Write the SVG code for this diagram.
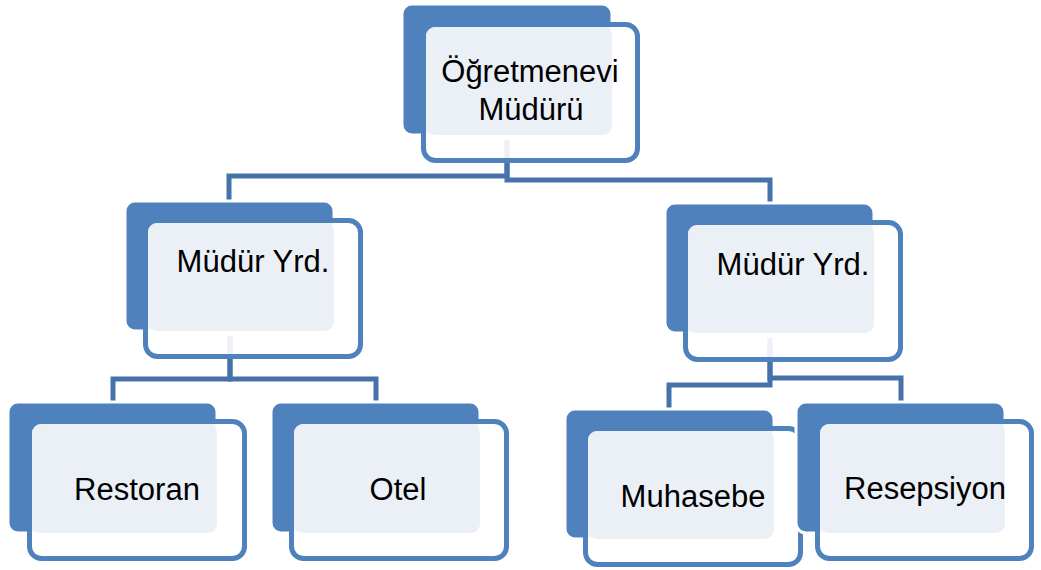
<svg xmlns="http://www.w3.org/2000/svg" width="1041" height="570" viewBox="0 0 1041 570">
<style>
.bk{fill:#4F81BD;stroke:#FFFFFF;stroke-width:3}
.ol{fill:#FFFFFF;fill-opacity:0.9;stroke:#4F81BD;stroke-width:5}
.lt{fill:#EBF0F7}
.tx{font-family:"Liberation Sans",Arial,sans-serif;font-size:31px;fill:#000000;text-anchor:middle}
.cn{fill:none;stroke:#4672AA;stroke-width:5;stroke-linejoin:miter}
</style>
<rect width="1041" height="570" fill="#FFFFFF"/>
<g id="connectors">
<path class="cn" d="M507,140 V176 H229 V202"/>
<path class="cn" d="M507,140 V180 H770 V204"/>
<path class="cn" d="M230,336 V379 H113 V402"/>
<path class="cn" d="M230,336 V379 H376 V402"/>
<path class="cn" d="M770,338 V385 H669 V409"/>
<path class="cn" d="M770,338 V378 H901 V402"/>
</g>
<g id="node-top">
<rect class="bk" x="402" y="4" width="210" height="131" rx="10"/>
<rect class="ol" x="423.5" y="24.5" width="214" height="136" rx="12"/>
<rect class="lt" x="426" y="27" width="186" height="108" rx="9"/>
<text class="tx" x="530" y="82">Öğretmenevi</text>
<text class="tx" x="531" y="120">Müdürü</text>
</g>
<g id="node-mid-left">
<rect class="bk" x="125" y="201" width="209" height="130" rx="10"/>
<rect class="ol" x="145.5" y="220.5" width="215" height="136" rx="12"/>
<rect class="lt" x="148" y="223" width="186" height="108" rx="9"/>
<text class="tx" x="253" y="272">Müdür Yrd.</text>
</g>
<g id="node-mid-right">
<rect class="bk" x="665" y="203" width="209" height="130" rx="10"/>
<rect class="ol" x="685.5" y="222.5" width="215" height="137" rx="12"/>
<rect class="lt" x="688" y="225" width="186" height="108" rx="9"/>
<text class="tx" x="793" y="275">Müdür Yrd.</text>
</g>
<g id="node-restoran">
<rect class="bk" x="8" y="402" width="209" height="131" rx="10"/>
<rect class="ol" x="29.5" y="421.5" width="215" height="137" rx="12"/>
<rect class="lt" x="32" y="424" width="185" height="109" rx="9"/>
<text class="tx" x="137" y="500">Restoran</text>
</g>
<g id="node-otel">
<rect class="bk" x="271" y="402" width="209" height="131" rx="10"/>
<rect class="ol" x="291.5" y="421.5" width="215" height="137" rx="12"/>
<rect class="lt" x="294" y="424" width="186" height="109" rx="9"/>
<text class="tx" x="398" y="500">Otel</text>
</g>
<g id="node-muhasebe">
<rect class="bk" x="565" y="409" width="209" height="130" rx="10"/>
<rect class="ol" x="585.5" y="428.5" width="215" height="136" rx="12"/>
<rect class="lt" x="588" y="431" width="186" height="108" rx="9"/>
<text class="tx" x="693" y="507">Muhasebe</text>
</g>
<g id="node-resepsiyon">
<rect class="bk" x="796" y="402" width="209" height="131" rx="10"/>
<rect class="ol" x="817.5" y="421.5" width="214" height="137" rx="12"/>
<rect class="lt" x="820" y="424" width="185" height="109" rx="9"/>
<text class="tx" x="925" y="499">Resepsiyon</text>
</g>
</svg>
